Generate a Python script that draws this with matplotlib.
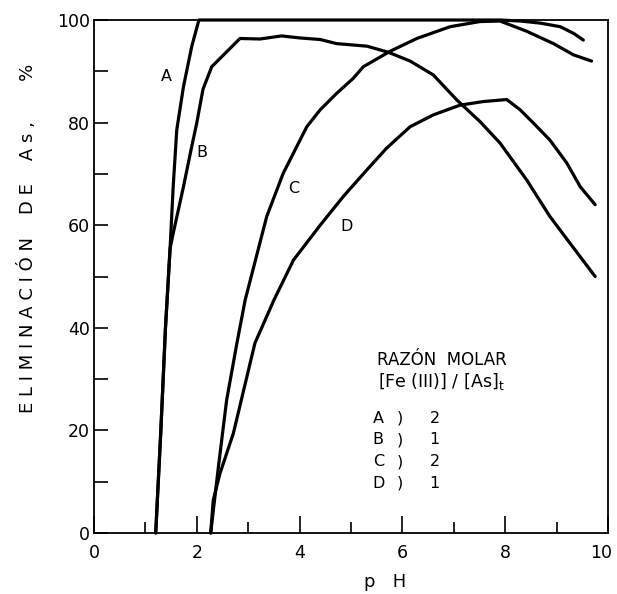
import matplotlib
matplotlib.use("Agg")
import matplotlib.pyplot as plt
from matplotlib.ticker import MultipleLocator, FuncFormatter

# curve data (pH, % As removed)
a_ph = [1.2, 1.3, 1.39, 1.48, 1.54, 1.61, 1.74, 1.9, 2.04, 3.0, 5.0, 7.0, 7.9, 8.3, 8.68, 9.07, 9.33, 9.52]
a_pct = [0, 20, 40, 55.5, 67.5, 78.6, 87.0, 94.8, 100, 100, 100, 100, 100, 99.8, 99.4, 98.7, 97.4, 96.1]

b_ph = [1.2, 1.3, 1.39, 1.48, 1.54, 1.74, 1.9, 2.0, 2.12, 2.29, 2.84, 3.23, 3.65, 4.01, 4.4, 4.72,
        5.31, 5.73, 6.15, 6.6, 7.06, 7.51, 7.9, 8.42, 8.87, 9.26, 9.75]
b_pct = [0, 20, 40, 55.5, 58.4, 67.5, 75.3, 80.0, 86.5, 90.9, 96.4, 96.3, 96.9, 96.5, 96.2, 95.4,
         94.9, 93.7, 92.0, 89.3, 84.4, 80.2, 76.0, 68.8, 61.7, 56.5, 50.0]

c_ph = [2.27, 2.42, 2.58, 2.78, 2.94, 3.36, 3.68, 4.14, 4.4, 4.72, 5.04, 5.24, 5.76, 6.28, 6.93,
        7.51, 7.9, 8.42, 8.94, 9.33, 9.68]
c_pct = [0, 12.9, 25.9, 37.0, 45.4, 61.7, 70.1, 79.2, 82.5, 85.7, 88.6, 90.9, 93.9, 96.4, 98.7,
         99.7, 99.8, 97.8, 95.4, 93.2, 92.0]

d_ph = [2.27, 2.32, 2.45, 2.71, 3.13, 3.5, 3.88, 4.4, 4.85, 5.31, 5.69, 6.15, 6.6, 7.12, 7.57,
        8.03, 8.29, 8.55, 8.87, 9.2, 9.46, 9.75]
d_pct = [0, 6.4, 11.6, 19.4, 37.0, 45.4, 53.2, 60.0, 65.6, 70.8, 75.0, 79.2, 81.5, 83.4, 84.1,
         84.5, 82.5, 79.9, 76.6, 72.1, 67.5, 64.0]

curve_names = ["A", "B", "C", "D"]
label_pos = [(1.4, 88.9), (2.1, 74.1), (3.88, 67.2), (4.92, 59.8)]
ratios = ["2", "1", "2", "1"]
x_max = 10

fig = plt.figure(figsize=(6.17, 5.94), dpi=100)
ax = fig.add_axes([0.1524, 0.1027, 0.833, 0.8636])

for xs, ys in [(a_ph, a_pct), (b_ph, b_pct), (c_ph, c_pct), (d_ph, d_pct)]:
    ax.plot(xs, ys, color="black", lw=2.3, solid_capstyle="round", solid_joinstyle="round",
            clip_on=False)

for name, (lx, ly) in zip(curve_names, label_pos):
    ax.text(lx, ly, name, fontsize=11.5, ha="center", va="center")

# legend block
ax.text(6.76, 33.7, "RAZÓN  MOLAR", fontsize=12, ha="center", va="center")
ax.text(6.76, 29.6, r"[Fe (III)] / [As]$_{\mathrm{t}}$", fontsize=12.5, ha="center", va="center")
for i, (name, r) in enumerate(zip(curve_names, ratios)):
    yy = 22.4 - i * 4.25
    ax.text(5.53, yy, name, fontsize=11.5, ha="center", va="center")
    ax.text(5.95, yy, ")", fontsize=11.5, ha="center", va="center")
    ax.text(6.63, yy, r, fontsize=11.5, ha="center", va="center")

ax.set_xlim(0, x_max)
ax.set_ylim(0, 100)
ax.xaxis.set_major_locator(MultipleLocator(2))
ax.xaxis.set_minor_locator(MultipleLocator(1))
# the last label is drawn separately, a bit to the left, so it fits in the picture
ax.xaxis.set_major_formatter(FuncFormatter(lambda v, p: "" if v >= x_max else f"{v:.0f}"))
ax.yaxis.set_major_locator(MultipleLocator(20))
ax.yaxis.set_minor_locator(MultipleLocator(10))
ax.tick_params(axis="x", which="major", direction="in", length=12, width=1.2, labelsize=12.5, pad=8)
ax.tick_params(axis="x", which="minor", direction="in", length=8, width=1.2)
ax.tick_params(axis="y", which="both", direction="in", length=10, width=1.2, labelsize=12.5, pad=3)
for sp in ax.spines.values():
    sp.set_linewidth(1.3)

ax.annotate(f"{x_max}", xy=(x_max, 0), xytext=(-5, -8), textcoords="offset points",
            ha="center", va="top", fontsize=12.5, annotation_clip=False)

fig.text(0.625, 0.005, "p   H", fontsize=13, ha="center", va="bottom")
fig.text(0.045, 0.598, "E L I M I N A C I Ó N    D E    A s ,       %", fontsize=13,
         rotation=90, ha="center", va="center")

fig.savefig("out.png", dpi=100)
